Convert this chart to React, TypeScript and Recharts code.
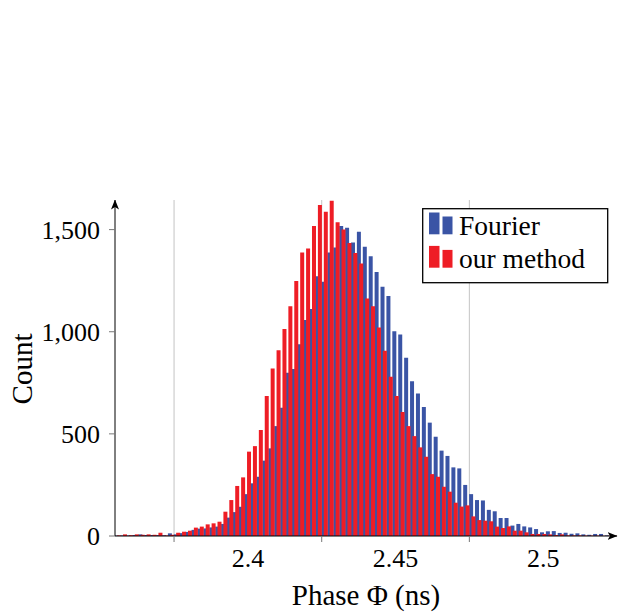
import React from 'react';
import { BarChart, Bar, XAxis, YAxis, CartesianGrid, Legend } from 'recharts';

// Bin centres (ns)
const phase = [
  2.381, 2.383, 2.385, 2.387, 2.389,
  2.391, 2.393, 2.395, 2.397, 2.399,
  2.401, 2.403, 2.405, 2.407, 2.409,
  2.411, 2.413, 2.415, 2.417, 2.419,
  2.421, 2.423, 2.425, 2.427, 2.429,
  2.431, 2.433, 2.435, 2.437, 2.439,
  2.441, 2.443, 2.445, 2.447, 2.449,
  2.451, 2.453, 2.455, 2.457, 2.459,
  2.461, 2.463, 2.465, 2.467, 2.469,
  2.471, 2.473, 2.475, 2.477, 2.479,
  2.481, 2.483, 2.485, 2.487, 2.489,
  2.491, 2.493, 2.495, 2.497, 2.499,
  2.501, 2.503, 2.505, 2.507, 2.509,
  2.511, 2.513, 2.515, 2.517, 2.519,
  2.521, 2.523, 2.525, 2.527, 2.529,
  2.531, 2.533, 2.535, 2.537, 2.539,
  2.541, 2.543, 2.545, 2.547, 2.549,
];

const fourier = [
  2, 3, 3, 5, 8,
  5, 5, 5, 4, 13,
  8, 14, 20, 30, 36,
  37, 42, 46, 59, 90,
  117, 143, 205, 258, 290,
  369, 429, 538, 628, 799,
  817, 939, 1057, 1111, 1272,
  1245, 1388, 1412, 1518, 1509,
  1437, 1489, 1416, 1370, 1293,
  1220, 1175, 1003, 987, 873,
  758, 698, 631, 555, 486,
  418, 392, 336, 331, 250,
  205, 176, 174, 128, 121,
  88, 88, 51, 59, 47,
  42, 34, 18, 23, 24,
  15, 16, 11, 13, 8,
  6, 10, 10, 3, 2,
];

const ourMethod = [
  3, 8, 4, 8, 6,
  8, 6, 16, 3, 6,
  16, 21, 26, 41, 46,
  57, 62, 70, 119, 176,
  245, 287, 413, 440, 519,
  685, 820, 910, 1013, 1125,
  1248, 1388, 1408, 1518, 1620,
  1587, 1641, 1536, 1500, 1435,
  1386, 1334, 1163, 1125, 1021,
  907, 780, 685, 607, 538,
  489, 434, 388, 303, 290,
  241, 217, 163, 144, 150,
  96, 78, 75, 72, 46,
  39, 47, 26, 26, 18,
  10, 10, 10, 8, 5,
  8, 3, 3, 3, 2,
  2, 2, 1, 1, 1,
];

const seriesNames = ['Fourier', 'our method'];
const yTicks = [0, 500, 1000, 1500];
const gridTicks = [2.4, 2.45, 2.5];
const xTickLabels = ['2.4', '2.45', '2.5'];
const xLabelAt = [2.425, 2.475, 2.525];

const data = phase.map((p, i) => ({ phase: p, fourier: fourier[i], ours: ourMethod[i] }));

const FONT = "'Liberation Serif', 'Times New Roman', serif";
const BLUE = '#3a54a5';
const RED = '#ee1d25';

const XTick = (props: any) => {
  const { x, y, payload } = props;
  const v = payload.value;
  const gi = gridTicks.findIndex((t) => Math.abs(t - v) < 1e-9);
  if (gi >= 0) {
    return <line x1={x} x2={x} y1={y - 14} y2={y - 8} stroke="#777" strokeWidth={1} />;
  }
  const li = xLabelAt.findIndex((t) => Math.abs(t - v) < 1e-9);
  if (li >= 0) {
    return (
      <text x={x} y={y} dy={17} textAnchor="middle" fontSize={26} fill="#000" fontFamily={FONT}>
        {xTickLabels[li]}
      </text>
    );
  }
  return null;
};

const LegendBox = (props: any) => {
  const payload = props.payload || [];
  return (
    <svg width={187} height={76} style={{ display: 'block' }}>
      <rect x={0.7} y={0.7} width={185} height={74} fill="#fff" stroke="#000" strokeWidth={1.3} />
      {payload.map((p: any, i: number) => (
        <g key={i}>
          <rect x={7} y={4.5 + 33.4 * i} width={10.5} height={21.8} fill={p.color} />
          <rect x={20.5} y={8.5 + 33.4 * i} width={10} height={17.8} fill={p.color} />
          <text x={37} y={27 + 33 * i} fontSize={27.5} fontFamily={FONT} fill="#000">
            {p.value}
          </text>
        </g>
      ))}
    </svg>
  );
};

export default function App() {
  return (
    <div style={{ position: 'absolute', left: 0, top: 0, width: 618, height: 614, fontFamily: FONT, background: '#fff' }}>
      <BarChart
        width={618}
        height={614}
        data={data}
        margin={{ top: 200, right: 1, bottom: 0, left: 0 }}
        barGap={-1.65}
        barCategoryGap={-0.25}
        style={{ fontFamily: FONT }}
      >
        <defs>
          <marker id="arrowHead" viewBox="0 0 10 8" refX={9.5} refY={4} markerWidth={10} markerHeight={8} markerUnits="userSpaceOnUse" orient="auto-start-reverse">
            <path d="M0,0 L10,4 L0,8 L2.5,4 Z" fill="#000" />
          </marker>
        </defs>
        <CartesianGrid vertical horizontal={false} verticalValues={gridTicks} stroke="#c4c4c4" strokeWidth={1} />
        <XAxis
          dataKey="phase"
          type="number"
          domain={[2.38, 2.55]}
          allowDataOverflow
          ticks={[...gridTicks, ...xLabelAt].sort((a, b) => a - b)}
          interval={0}
          tick={<XTick />}
          tickLine={false}
          tickSize={6}
          tickMargin={8}
          height={78}
          axisLine={{ stroke: '#000', strokeWidth: 1, markerEnd: 'url(#arrowHead)' }}
          label={{ value: 'Phase Φ (ns)', position: 'insideBottom', offset: 9, fontSize: 29, fill: '#000', fontFamily: FONT }}
        />
        <YAxis
          type="number"
          domain={[0, 1645]}
          allowDataOverflow
          ticks={yTicks}
          interval={0}
          width={115}
          tickSize={6}
          tickMargin={9}
          tickLine={{ stroke: '#777' }}
          tick={{ fontSize: 26, fill: '#000', fontFamily: FONT }}
          tickFormatter={(v: number) => v.toLocaleString('en-US')}
          axisLine={{ stroke: '#000', strokeWidth: 1, markerStart: 'url(#arrowHead)' }}
          label={(p: any) => {
            const vb = p.viewBox || { x: 0, y: 200, width: 115, height: 336 };
            const cx = vb.x + 32;
            const cy = vb.y + vb.height / 2 + 1;
            return (
              <text x={cx} y={cy} transform={`rotate(-90, ${cx}, ${cy})`} textAnchor="middle" fontSize={29} fill="#000" fontFamily={FONT}>
                Count
              </text>
            );
          }}
        />
        <Legend
          layout="horizontal"
          verticalAlign="middle"
          align="center"
          content={<LegendBox />}
          wrapperStyle={{ position: 'absolute', left: 422, top: 208, width: 187, height: 76 }}
        />
        <Bar dataKey="fourier" name={seriesNames[0]} fill={BLUE} isAnimationActive={false} />
        <Bar dataKey="ours" name={seriesNames[1]} fill={RED} isAnimationActive={false} />
      </BarChart>
    </div>
  );
}
